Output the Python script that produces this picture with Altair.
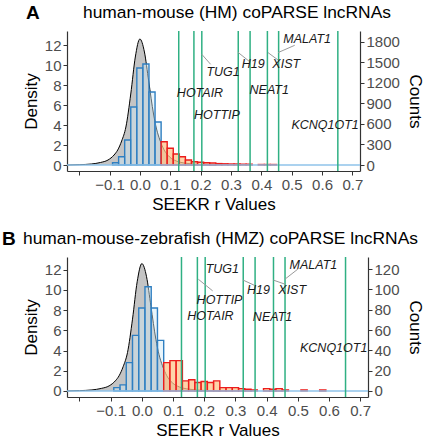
import altair as alt
import pandas as pd

FONT = "Liberation Sans"

# shared x range of both panels (SEEKR r)
X_MIN, X_MAX = -0.24, 0.725
x_ticks = [-0.2, -0.1, 0.0, 0.1, 0.2, 0.3, 0.4, 0.5, 0.6, 0.7]
BIN = 0.02

# ---------------- panel A: human-mouse ----------------
a_null_x = [-0.24, -0.2, -0.16, -0.13, -0.105, -0.085, -0.073, -0.06, -0.046, -0.03,
            -0.015, 0.0, 0.015, 0.029, 0.045, 0.055, 0.066, 0.08, 0.098, 0.12, 0.15, 0.2, 0.25]
a_null_y = [0.0, 0.03, 0.1, 0.25, 0.5, 1.0, 1.5, 2.4, 3.8, 7.1,
            10.8, 12.6, 11.3, 8.4, 5.1, 3.6, 2.5, 1.5, 0.8, 0.4, 0.18, 0.05, 0.0]
a_blue_c = [-0.08, -0.06, -0.04, -0.02, 0.0, 0.02, 0.04, 0.06]
a_blue_h = [0.23, 0.83, 2.5, 5.8, 9.7, 10.1, 7.3, 4.3]
a_red_c = [0.08, 0.10, 0.12, 0.14, 0.16, 0.18, 0.20, 0.22, 0.24, 0.26, 0.28, 0.30,
           0.32, 0.34, 0.36, 0.38, 0.40, 0.42, 0.44]
a_red_h = [2.33, 1.67, 1.1, 0.83, 0.5, 0.33, 0.27, 0.23, 0.2, 0.14, 0.12, 0.1,
           0.1, 0.08, 0.08, 0.0, 0.05, 0.05, 0.05]
a_lines = [0.128, 0.178, 0.204, 0.324, 0.363, 0.42, 0.457, 0.652]
a_lab_text = ["TUG1", "HOTAIR", "HOTTIP", "H19", "XIST", "MALAT1", "NEAT1", "KCNQ1OT1"]
a_lab_x = [0.274, 0.198, 0.254, 0.373, 0.482, 0.551, 0.426, 0.61]
a_lab_y = [9.3, 7.2, 5.0, 10.1, 10.1, 12.6, 7.5, 4.0]
a_seg_x = [0.204, 0.323, 0.422, 0.455]
a_seg_y = [11.07, 11.27, 11.24, 11.24]
a_seg_x2 = [0.233, 0.36, 0.455, 0.51]
a_seg_y2 = [10.07, 10.37, 10.5, 11.97]
a_counts = [0, 300, 600, 900, 1200, 1500, 1800]
a_y_dom = [-0.6, 13.4]
a_count_per_unit = 146.3

# ---------------- panel B: human-mouse-zebrafish ----------------
b_null_x = [-0.24, -0.2, -0.16, -0.13, -0.105, -0.085, -0.073, -0.06, -0.046, -0.03,
            -0.015, 0.0, 0.015, 0.029, 0.045, 0.055, 0.066, 0.08, 0.098, 0.12, 0.15, 0.2, 0.25]
b_null_y = [0.0, 0.03, 0.1, 0.25, 0.5, 1.0, 1.5, 2.4, 3.8, 7.1,
            10.8, 12.6, 11.3, 8.4, 5.1, 3.6, 2.5, 1.5, 0.8, 0.4, 0.18, 0.05, 0.0]
b_blue_c = [-0.08, -0.06, -0.04, -0.02, 0.0, 0.02, 0.04, 0.06]
b_blue_h = [0.33, 0.6, 2.8, 5.5, 8.2, 10.3, 8.2, 5.0]
b_red_c = [0.08, 0.10, 0.12, 0.14, 0.16, 0.18, 0.20, 0.22, 0.24, 0.26, 0.28, 0.30,
           0.32, 0.34, 0.36, 0.38, 0.40, 0.42, 0.44, 0.46, 0.48, 0.50, 0.52, 0.54,
           0.56, 0.58, 0.60]
b_red_h = [2.8, 3.0, 3.0, 1.0, 1.1, 0.83, 0.93, 0.83, 1.0, 0.33, 0.33, 0.33,
           0.23, 0.17, 0.1, 0.0, 0.23, 0.17, 0.23, 0.1, 0.0, 0.0, 0.1, 0.0,
           0.0, 0.1, 0.0]
b_lines = [0.127, 0.178, 0.203, 0.325, 0.363, 0.422, 0.459, 0.653]
b_lab_text = ["TUG1", "HOTTIP", "HOTAIR", "H19", "XIST", "MALAT1", "NEAT1", "KCNQ1OT1"]
b_lab_x = [0.258, 0.249, 0.22, 0.374, 0.482, 0.55, 0.419, 0.615]
b_lab_y = [12.1, 9.0, 7.4, 10.0, 10.0, 12.5, 7.3, 4.2]
b_seg_x = [0.181, 0.325, 0.422, 0.459]
b_seg_y = [11.05, 10.96, 10.96, 11.06]
b_seg_x2 = [0.227, 0.36, 0.459, 0.5]
b_seg_y2 = [9.9, 10.46, 10.56, 12.05]
b_counts = [0, 20, 40, 60, 80, 100, 120]
b_y_dom = [-0.6, 13.25]
b_count_per_unit = 9.96

GRAY = "#ababab"
BLUE_LINE = "#2f7fc1"
BLUE_FILL = "#cfe9f7"
RED_LINE = "#ec1c1c"
RED_FILL = "#fdc48c"
GREEN = "#2fb083"
LEADER = "#9a9a9a"


def panel(letter, title, title_dx, width, null_x, null_y, blue_c, blue_h, red_c, red_h,
          lines, lab_text, lab_x, lab_y, seg_x, seg_y, seg_x2, seg_y2,
          counts, y_dom, per_unit):
    xs = alt.Scale(domain=[X_MIN, X_MAX], nice=False, zero=False)
    ys = alt.Scale(domain=y_dom, nice=False, zero=False)
    x_axis = alt.Axis(values=x_ticks, title="SEEKR r Values",
                      labelExpr="datum.value < -0.15 ? '' : format(datum.value, '.1f')")
    y_axis = alt.Axis(values=[0, 2, 4, 6, 8, 10, 12], title="Density", titlePadding=4)

    null_df = pd.DataFrame({"x": null_x, "y": null_y})
    area = alt.Chart(null_df).mark_area(
        fill=GRAY, interpolate="monotone",
        line={"color": "black", "strokeWidth": 1},
    ).encode(x=alt.X("x:Q", scale=xs, axis=x_axis), y=alt.Y("y:Q", scale=ys, axis=y_axis))

    def bars(cs, hs, fill, stroke, opacity):
        df = pd.DataFrame({"c": cs, "h": hs})
        df = df[df["h"] > 0]
        df["x1"] = df["c"] - BIN / 2
        df["x2"] = df["c"] + BIN / 2
        return alt.Chart(df).mark_rect(
            fill=fill, fillOpacity=opacity, stroke=stroke, strokeWidth=1.4
        ).encode(
            x=alt.X("x1:Q", scale=xs, axis=x_axis), x2="x2:Q",
            y=alt.Y("h:Q", scale=ys, axis=y_axis), y2=alt.datum(0),
        )

    base_df = pd.DataFrame({"x": [X_MIN], "x2": [X_MAX], "y": [0]})
    baseline = alt.Chart(base_df).mark_rule(color="#8fc3ea", strokeWidth=1.5).encode(
        x=alt.X("x:Q", scale=xs, axis=x_axis), x2="x2:Q",
        y=alt.Y("y:Q", scale=ys, axis=y_axis))

    blue = bars(blue_c, blue_h, BLUE_FILL, BLUE_LINE, 0.45)
    red = bars(red_c, red_h, RED_FILL, RED_LINE, 0.75)

    vlines = alt.Chart(pd.DataFrame({"x": lines})).mark_rule(
        color=GREEN, strokeWidth=1.5).encode(x=alt.X("x:Q", scale=xs, axis=x_axis))

    seg_df = pd.DataFrame({"x": seg_x, "y": seg_y, "x2": seg_x2, "y2": seg_y2})
    segs = alt.Chart(seg_df).mark_rule(color=LEADER, strokeWidth=1).encode(
        x=alt.X("x:Q", scale=xs, axis=x_axis), x2="x2:Q",
        y=alt.Y("y:Q", scale=ys, axis=y_axis), y2="y2:Q")

    lab_df = pd.DataFrame({"t": lab_text, "x": lab_x, "y": lab_y})
    labels = alt.Chart(lab_df).mark_text(
        font=FONT, fontSize=12.5, fontStyle="italic", color="#1a1a1a"
    ).encode(x=alt.X("x:Q", scale=xs, axis=x_axis), y=alt.Y("y:Q", scale=ys, axis=y_axis),
             text="t:N")

    letter_mark = alt.Chart(pd.DataFrame({"t": [letter]})).mark_text(
        font=FONT, fontSize=19, fontWeight="bold", align="left", baseline="alphabetic",
        color="black").encode(x=alt.value(title_dx[0]), y=alt.value(-12), text="t:N")
    title_mark = alt.Chart(pd.DataFrame({"t": [title]})).mark_text(
        font=FONT, fontSize=17.4, align="left", baseline="alphabetic",
        color="black").encode(x=alt.value(title_dx[1]), y=alt.value(-13), text="t:N")

    inner = alt.layer(area, blue, red, baseline, vlines, segs, labels, letter_mark, title_mark)

    c_dom = [y_dom[0] * per_unit, y_dom[1] * per_unit]
    counts_layer = alt.Chart(pd.DataFrame({"c": [0]})).mark_point(opacity=0).encode(
        y=alt.Y("c:Q", scale=alt.Scale(domain=c_dom, nice=False, zero=False),
                axis=alt.Axis(orient="right", values=counts, format="d", title="Counts",
                              titleAngle=90, titlePadding=6)))

    return alt.layer(inner, counts_layer).resolve_scale(y="independent").properties(
        width=width, height=140)


pA = panel("A", "human-mouse (HM) coPARSE lncRNAs", (-41, 16), 293,
           a_null_x, a_null_y, a_blue_c, a_blue_h, a_red_c, a_red_h, a_lines,
           a_lab_text, a_lab_x, a_lab_y, a_seg_x, a_seg_y, a_seg_x2, a_seg_y2,
           a_counts, a_y_dom, a_count_per_unit)
pB = panel("B", "human-mouse-zebrafish (HMZ) coPARSE lncRNAs", (-65, -44), 301,
           b_null_x, b_null_y, b_blue_c, b_blue_h, b_red_c, b_red_h, b_lines,
           b_lab_text, b_lab_x, b_lab_y, b_seg_x, b_seg_y, b_seg_x2, b_seg_y2,
           b_counts, b_y_dom, b_count_per_unit)

chart = alt.vconcat(pA, pB, spacing=86, bounds="flush").properties(
    padding={"left": 2, "top": 4, "right": 2, "bottom": 2}
).configure_view(stroke=None).configure_axis(
    grid=False, domainColor="#333333", domainWidth=1.2, tickColor="#333333",
    tickSize=4, labelColor="#4d4d4d", labelFont=FONT, labelFontSize=15,
    titleFont=FONT, titleFontSize=17, titleFontWeight="normal", titleColor="black",
    labelPadding=2,
)

chart.save("out.html", embed_options={"renderer": "svg", "actions": False})
